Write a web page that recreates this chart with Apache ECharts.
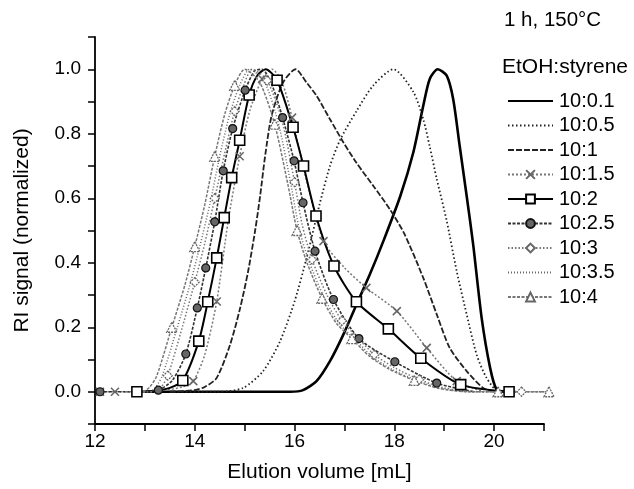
<!DOCTYPE html>
<html><head><meta charset="utf-8">
<script src="https://cdn.jsdelivr.net/npm/echarts@6/dist/echarts.min.js"></script>
<style>html,body{margin:0;padding:0;background:#fff}#c{width:634px;height:489px}</style>
</head><body><div id="c"></div>
<script>
// ---- Data ----
const seriesNames = ['10:0.1','10:0.5','10:1','10:1.5','10:2','10:2.5','10:3','10:3.5','10:4'];
const xTickLabels = [12,14,16,18,20];
const yTickLabels = [0.0,0.2,0.4,0.6,0.8,1.0];

const X01 = [13.0,14.5,15.5,15.91,16.17,16.44,16.71,16.98,17.24,17.51,17.78,18.12,18.38,18.58,18.71,18.87,19.05,19.18,19.31,19.45,19.58,19.75,19.92,20.05,20.22];
const Y01 = [0,0,0,0,0.005,0.033,0.095,0.178,0.27,0.364,0.467,0.607,0.742,0.887,0.97,1.0,0.98,0.907,0.762,0.607,0.457,0.229,0.074,0.007,0];

const X05 = [13.5,14.5,14.97,15.37,15.71,16.0,16.25,16.5,16.71,16.91,17.24,17.58,17.98,18.38,18.58,18.71,18.85,19.05,19.25,19.45,19.65,19.85,20.1,20.5];
const Y05 = [0,0,0.012,0.064,0.157,0.28,0.42,0.58,0.70,0.78,0.87,0.95,1.0,0.93,0.845,0.76,0.66,0.53,0.374,0.24,0.115,0.043,0,0];

const X1 = [13.5,14.0,14.2,14.44,14.71,14.91,15.07,15.21,15.31,15.41,15.54,15.77,16.02,16.24,16.44,16.71,16.98,17.24,17.58,17.91,18.2,18.58,18.85,19.11,19.45,19.78,20.0];
const Y1 = [0,0.005,0.015,0.043,0.147,0.26,0.374,0.5,0.607,0.731,0.856,0.959,1.0,0.959,0.918,0.845,0.773,0.71,0.638,0.566,0.49,0.353,0.24,0.136,0.064,0.012,0];

const X15 = [12.1,12.4,12.8,13.4,13.75,13.97,14.2,14.44,14.67,14.9,15.1,15.35,15.55,15.75,15.95,16.2,16.58,17.0,17.44,18.05,18.65,19.25,19.8];
const Y15 = [0,0,0,0.005,0.015,0.033,0.115,0.28,0.53,0.73,0.87,0.97,1.0,0.96,0.85,0.68,0.467,0.385,0.322,0.25,0.136,0.033,0];
const M15 = [1,1,0,0,0,1,0,1,0,1,0,1,0,0,1,0,1,0,1,1,1,1,0];

const X2 = [12.84,13.2,13.5,13.76,14.08,14.26,14.44,14.59,14.74,14.90,15.09,15.25,15.42,15.65,15.97,16.18,16.43,16.79,17.24,17.88,18.53,19.33,20.30];
const Y2 = [0,0.003,0.012,0.035,0.157,0.279,0.415,0.54,0.664,0.78,0.92,0.98,1.0,0.966,0.82,0.70,0.545,0.39,0.279,0.195,0.104,0.022,0];
const M2 = [1,0,0,1,1,1,1,1,1,1,1,0,0,1,1,1,1,1,1,1,1,1,1];

const X25 = [12.1,12.6,13.0,13.27,13.55,13.82,14.05,14.22,14.40,14.57,14.76,15.01,15.2,15.35,15.55,15.76,15.99,16.17,16.41,16.78,17.29,18.01,18.85,19.6];
const Y25 = [0,0,0,0.005,0.035,0.117,0.26,0.384,0.527,0.685,0.816,0.935,0.995,1.0,0.95,0.85,0.716,0.586,0.436,0.286,0.165,0.093,0.027,0];
const M25 = [1,0,0,1,0,1,1,1,1,1,1,1,0,0,0,1,1,1,1,1,1,1,1,0];

const X3 = [12.9,13.2,13.33,13.46,13.75,14.0,14.2,14.4,14.6,14.8,14.98,15.15,15.45,15.75,16.0,16.15,16.35,16.65,16.95,17.25,17.6,18.0,18.5,19.0,19.6,20.1,20.55,21.0];
const Y3 = [0,0,0.015,0.05,0.2,0.34,0.46,0.6,0.74,0.87,0.95,1.0,0.965,0.84,0.65,0.52,0.41,0.3,0.22,0.17,0.115,0.075,0.038,0.012,0,0,0,0];
const M3 = [0,0,0,1,0,1,0,1,0,1,0,0,1,0,1,0,1,0,1,0,1,0,1,0,0,0,1,0];

const X35 = [12.8,13.1,13.22,13.35,13.65,13.9,14.1,14.3,14.5,14.7,14.9,15.1,15.4,15.68,15.93,16.1,16.3,16.6,16.9,17.2,17.55,17.95,18.45,18.95,19.5,20.2,21.1];
const Y35 = [0,0,0.015,0.05,0.2,0.33,0.45,0.58,0.73,0.86,0.95,1.0,0.96,0.83,0.64,0.5,0.4,0.29,0.21,0.165,0.11,0.07,0.035,0.01,0,0,0];

const X4 = [12.6,12.95,13.1,13.24,13.54,13.8,14.0,14.2,14.4,14.6,14.8,15.0,15.3,15.6,15.87,16.05,16.25,16.55,16.85,17.15,17.5,17.9,18.4,18.9,19.5,20.08,20.6,21.1];
const Y4 = [0,0,0.015,0.05,0.2,0.33,0.45,0.58,0.73,0.86,0.95,1.0,0.96,0.83,0.64,0.5,0.4,0.29,0.21,0.165,0.11,0.07,0.035,0.01,0,0,0,0];
const M4 = [0,0,0,0,1,0,1,0,1,0,1,0,0,1,0,1,0,1,0,1,0,0,1,0,0,1,0,1];

// ---- build ----
function pts(xs, ys, flags) {
  return xs.map((x, i) => {
    const d = { value: [x, ys[i]] };
    if (flags && !flags[i]) d.symbol = 'none';
    return d;
  });
}
const FONT = 'Liberation Sans, Arial, Helvetica, sans-serif';
const FS = 19;
const crossPath = 'path://M0,0L10,10M10,0L0,10';
function line(name, data, lineStyle, sym, itemStyle, size) {
  return {
    name, type: 'line', data, smooth: 0.25, clip: false,
    showSymbol: !!sym, showAllSymbol: true,
    symbol: sym || 'none', symbolSize: size || 8,
    lineStyle, itemStyle: itemStyle || { color: lineStyle.color },
    emphasis: { disabled: true }, animation: false, z: 2
  };
}
const series = [
  line(seriesNames[0], pts(X01, Y01), { color: '#000', width: 2.6, type: 'solid' }),
  line(seriesNames[1], pts(X05, Y05), { color: '#222', width: 1.8, type: [1.5, 2.5] }),
  line(seriesNames[2], pts(X1, Y1), { color: '#222', width: 1.8, type: [6, 2] }),
  line(seriesNames[3], pts(X15, Y15, M15), { color: '#777', width: 1.5, type: [2, 2] }, crossPath,
       { color: 'none', borderColor: '#666', borderWidth: 1.5 }, 8),
  line(seriesNames[4], pts(X2, Y2, M2), { color: '#000', width: 2, type: 'solid' }, 'rect',
       { color: '#fff', borderColor: '#000', borderWidth: 1.6 }, 10),
  line(seriesNames[5], pts(X25, Y25, M25), { color: '#333', width: 1.6, type: [3, 1.5] }, 'circle',
       { color: '#666', borderColor: '#111', borderWidth: 1.2 }, 8),
  line(seriesNames[6], pts(X3, Y3, M3), { color: '#777', width: 1.5, type: [1.5, 2] }, 'diamond',
       { color: '#fff', borderColor: '#666', borderWidth: 1.3, borderType: [2, 1] }, 9),
  line(seriesNames[7], pts(X35, Y35), { color: '#666', width: 1.5, type: [1, 2] }),
  line(seriesNames[8], pts(X4, Y4, M4), { color: '#777', width: 1.5, type: [3, 1.5] }, 'triangle',
       { color: '#fff', borderColor: '#666', borderWidth: 1.3, borderType: [2, 1] }, 10)
];
const noMarker = ['10:0.1','10:0.5','10:1','10:3.5'];
const legendData = seriesNames.map(n => noMarker.indexOf(n) >= 0 ? { name: n, itemStyle: { opacity: 0 } } : { name: n });

const chart = echarts.init(document.getElementById('c'), null, { renderer: 'canvas' });
chart.setOption({
  backgroundColor: '#fff',
  animation: false,
  grid: { left: 95, right: 90, top: 37, bottom: 65, containLabel: false },
  xAxis: {
    type: 'value', min: 12, max: 21, interval: 1,
    name: 'Elution volume [mL]', nameLocation: 'middle', nameGap: 38,
    nameTextStyle: { fontFamily: FONT, fontSize: 21, color: '#000' },
    axisLine: { show: true, onZero: false, lineStyle: { color: '#000', width: 1.8 } },
    axisTick: { show: true, inside: false, length: 7, lineStyle: { color: '#000', width: 1.5 } },
    axisLabel: { margin: 8, fontFamily: FONT, fontSize: FS, color: '#000',
      formatter: v => (xTickLabels.indexOf(Math.round(v)) >= 0 && Math.abs(v - Math.round(v)) < 1e-6) ? String(Math.round(v)) : '' },
    splitLine: { show: false }
  },
  yAxis: {
    type: 'value', min: -0.1, max: 1.1, interval: 0.1,
    name: 'RI signal (normalized)', nameLocation: 'middle', nameGap: 62,
    nameTextStyle: { fontFamily: FONT, fontSize: 21, color: '#000' },
    axisLine: { show: true, onZero: false, lineStyle: { color: '#000', width: 1.8 } },
    axisTick: { show: true, inside: false, length: 7, lineStyle: { color: '#000', width: 1.5 } },
    axisLabel: { margin: 14, fontFamily: FONT, fontSize: FS, color: '#000',
      formatter: v => {
        const t = Math.round(v * 10) / 10;
        return yTickLabels.some(l => Math.abs(l - t) < 1e-6) && Math.abs(v - t) < 1e-6 ? t.toFixed(1) : '';
      } },
    splitLine: { show: false }
  },
  legend: {
    data: legendData, orient: 'vertical', left: 502, top: 86,
    itemWidth: 45, itemHeight: 11, itemGap: 4.5,
    textStyle: { fontFamily: FONT, fontSize: 20, color: '#000', padding: [0, 0, 0, 1] },
    selectedMode: false
  },
  graphic: [
    { type: 'text', left: 504, top: 10, style: { text: '1 h, 150°C', font: '20.5px ' + FONT, fill: '#000' } },
    { type: 'text', left: 502, top: 57, style: { text: 'EtOH:styrene', font: '21px ' + FONT, fill: '#000' } }
  ],
  series
});
</script></body></html>
